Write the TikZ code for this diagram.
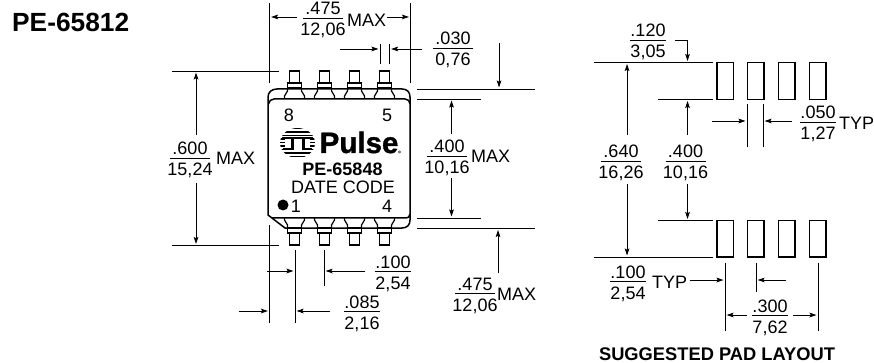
\documentclass[tikz,border=0pt]{standalone}
\usepackage{fontspec}
\setmainfont{Liberation Sans}
\newfontfamily\pulsefont[FakeBold=1.2]{Liberation Sans Bold}
\usetikzlibrary{arrows.meta}
\newcommand{\fd}[6]{% name x y top bottom barw
  \node[dimt,anchor=base] (#1t) at (#2,#3-3) {#4};
  \node[dimt,anchor=base] (#1b) at (#2,#3+18) {#5};
  \draw[barline] (#2-#6/2,#3) -- (#2+#6/2,#3);
}
\newcommand{\toppin}[1]{%
  \draw[pin] (#1-5,84) -- (#1-5,71) -- (#1+5,71) -- (#1+5,84);
  \draw[pin] (#1-7,83) rectangle (#1+7,88);
  \draw[pin] (#1-7,88) -- (#1-7,91) -- (#1-10,96) -- (#1-10,99);
  \draw[pin] (#1+7,88) -- (#1+7,91) -- (#1+10,96) -- (#1+10,99);
}
\newcommand{\botpin}[1]{%
  \draw[pin] (#1-5,232) -- (#1-5,245) -- (#1+5,245) -- (#1+5,232);
  \draw[pin] (#1-7,228) rectangle (#1+7,233);
  \draw[pin] (#1-7,228) -- (#1-7,225) -- (#1-10,220) -- (#1-10,218);
  \draw[pin] (#1+7,228) -- (#1+7,225) -- (#1+10,220) -- (#1+10,218);
}
\tikzset{
  dimt/.style={inner sep=0pt,font=\fontsize{18}{20}\selectfont},
  boldt/.style={inner sep=0pt,font=\fontsize{18}{20}\selectfont\bfseries},
  barline/.style={line width=0.9pt},
  ext/.style={line width=0.8pt},
  dim/.style={line width=0.8pt,-{Stealth[length=7pt,width=4.6pt,inset=1.2pt]}},
  pin/.style={line width=1.2pt,line join=miter},
  body/.style={line width=1.5pt},
  pad/.style={line width=1.4pt},
}
\begin{document}
\begin{tikzpicture}[x=1pt,y=-1pt]
\useasboundingbox (0,0) rectangle (874,363);
\node[inner sep=0pt,anchor=base west,font=\fontsize{26.3}{28}\selectfont\bfseries] (title) at (12,32) {PE-65812};

% ---------- package ----------
\foreach \c in {294.5,324.5,354.5,384.5} {\toppin{\c}\botpin{\c}}
\draw[body] (268,215) -- (268,97) .. controls (268,92) and (272,89) .. (277,89) -- (402,89)
  .. controls (407,89) and (410,92) .. (410,97) -- (410,220)
  .. controls (410,225) and (407,228) .. (402,228) -- (285,228) -- cycle;
\draw[body] (268.5,104) .. controls (269,101) and (271,99) .. (274,99) -- (405,99)
  .. controls (408,99) and (410,101) .. (410,104);
\draw[body] (272,218) -- (406,218) .. controls (408,218) and (410,217) .. (410,214);

\node[dimt] (n8) at (289,115) {8};
\node[dimt] (n5) at (387,115) {5};
\node[boldt] (part) at (342.5,169) {PE-65848};
\node[dimt] (date) at (343,187) {DATE CODE};
\fill (283,205) circle (5.5);
\node[dimt] (n1) at (296,206) {1};
\node[dimt] (n4) at (387,206) {4};

% logo
\begin{scope}
  \clip (297.5,143) ellipse (17.5 and 15);
  \foreach \y in {128.5,132,135.5,139,142.5,146,149.5,153,156.5}
    \fill (278,\y-0.9) rectangle (317,\y+0.9);
\end{scope}
\fill[white] (285,137) rectangle (310,150);
\fill (282,137) rectangle (313,139.2);
\fill (290.5,137) rectangle (293.5,149);
\fill (301.5,137) rectangle (304.5,149);
\fill (283,148) rectangle (293.5,150);
\fill (301.5,148) rectangle (312,150);
\node[inner sep=0pt,anchor=base west,font=\fontsize{29.5}{30}\pulsefont] (logo) at (319.5,153) {Pulse};
\draw[line width=0.3pt] (399.5,152) circle (1.2);

% ---------- left view dimensions ----------
\draw[ext] (269.5,3) -- (269.5,83);
\draw[ext] (410,3) -- (410,83);
\draw[dim] (297,17) -- (271,17);
\draw[dim] (387,17) -- (409,17);
\fd{w}{323}{18}{.475}{12,06}{40}
\node[dimt,anchor=base west] (wm) at (347,27) {MAX};

\draw[ext] (380,44) -- (380,64);
\draw[ext] (389,44) -- (389,64);
\draw[dim] (340,49) -- (378.5,49);
\draw[dim] (422,49) -- (391,49);
\fd{p}{453}{48}{.030}{0,76}{40}

\draw[ext] (172,71) -- (279,71);
\draw[ext] (172,245.5) -- (279,245.5);
\draw[dim] (196,135) -- (196,72.5);
\draw[dim] (196,183) -- (196,244);
\fd{h}{190}{158}{.600}{15,24}{40}
\node[dimt,anchor=base west] (hm) at (216,165) {MAX};

\draw[ext] (417,89) -- (535,89);
\draw[ext] (417,228.5) -- (535,228.5);
\draw[ext] (417,99) -- (481,99);
\draw[ext] (417,218) -- (481,218);
\draw[dim] (499,43) -- (499,87.5);
\draw[dim] (498,273) -- (498,230);
\draw[dim] (451.5,134) -- (451.5,100.5);
\draw[dim] (451.5,178) -- (451.5,216.5);
\fd{b}{447}{156}{.400}{10,16}{40}
\node[dimt,anchor=base west] (bm) at (471,163) {MAX};
\fd{l}{475}{293}{.475}{12,06}{40}
\node[dimt,anchor=base west] (lm) at (497,300) {MAX};

\draw[ext] (269.5,225) -- (269.5,323);
\draw[ext] (295,250) -- (295,323);
\draw[ext] (324,250) -- (324,286);
\draw[dim] (267,271) -- (293.5,271);
\draw[dim] (365,271) -- (325.5,271);
\fd{c}{393}{271}{.100}{2,54}{36}
\draw[dim] (239,311) -- (268,311);
\draw[dim] (330,311) -- (296.5,311);
\fd{d}{362}{311}{.085}{2,16}{36}

% ---------- pad layout ----------
\foreach \x in {717,747.5,778.5,809.5} {
  \draw[pad] (\x,62.5) rectangle (\x+16.5,99.5);
  \draw[pad] (\x,220.5) rectangle (\x+16.5,257);
}
\draw[ext] (594,62.5) -- (713,62.5);
\draw[ext] (658,99.5) -- (713,99.5);
\draw[ext] (658,220.5) -- (713,220.5);
\draw[ext] (594,257) -- (713,257);
\draw[dim] (627,135) -- (627,64);
\draw[dim] (627,184) -- (627,255.5);
\draw[dim] (687.5,135) -- (687.5,101);
\draw[dim] (687.5,184) -- (687.5,219);
\fd{e}{621}{161}{.640}{16,26}{40}
\fd{f}{685.5}{161}{.400}{10,16}{40}
\fd{g}{648}{40}{.120}{3,05}{36}
\draw[dim] (675,40.5) -- (687.5,40.5) -- (687.5,61);

\draw[ext] (747,104) -- (747,147);
\draw[ext] (763,104) -- (763,147);
\draw[dim] (712,121) -- (745.5,121);
\draw[dim] (792,121) -- (764.5,121);
\fd{i}{818}{122}{.050}{1,27}{36}
\node[dimt,anchor=base west] (ty) at (838.8,130) {TYP};

\fd{j}{628}{281}{.100}{2,54}{36}
\node[dimt,anchor=base west] (tz) at (652,288) {TYP};
\draw[ext] (725,263) -- (725,331);
\draw[ext] (756,263) -- (756,292);
\draw[ext] (818,263) -- (818,331);
\draw[dim] (690,280) -- (723.5,280);
\draw[dim] (786,280) -- (757.5,280);
\fd{k}{770}{315}{.300}{7,62}{36}
\draw[dim] (747,315) -- (726.5,315);
\draw[dim] (793,315) -- (816.5,315);
\node[inner sep=0pt,anchor=base,font=\fontsize{18.3}{20}\selectfont\bfseries] (sug) at (717,360) {SUGGESTED PAD LAYOUT};
\end{tikzpicture}
\end{document}
